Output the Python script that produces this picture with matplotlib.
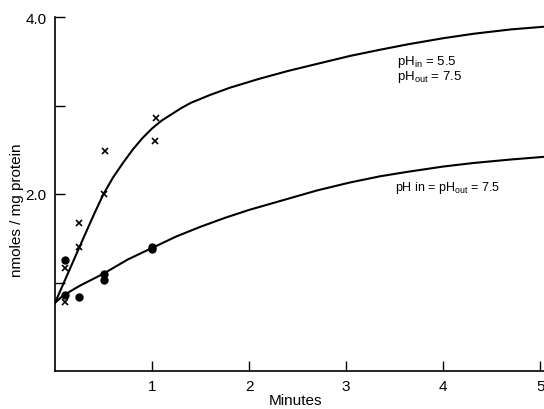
import matplotlib
matplotlib.use("Agg")
import matplotlib.pyplot as plt

plt.rcParams['font.family'] = ['Liberation Sans', 'DejaVu Sans']
plt.rcParams['mathtext.default'] = 'regular'

# puntos medidos: pH interior 5.5 / exterior 7.5 (cruces)
t_cruz = [0.1, 0.1, 0.25, 0.25, 0.5, 0.52, 1.04, 1.03]
y_cruz = [1.16, 0.78, 1.67, 1.40, 2.00, 2.49, 2.86, 2.60]

# puntos medidos: pH interior = exterior = 7.5 (circulos)
t_punto = [0.1, 0.1, 0.25, 0.5, 0.5, 1.0, 1.0]
y_punto = [1.25, 0.86, 0.84, 1.10, 1.03, 1.40, 1.38]

# curvas ajustadas
t_curva_sup = [0.0, 0.1, 0.2, 0.3, 0.41, 0.5, 0.6, 0.7, 0.8, 0.9, 1.0, 1.1, 1.2, 1.3,
               1.4, 1.6, 1.8, 2.1, 2.4, 2.7, 3.04, 3.35, 3.63, 4.0, 4.31, 4.7, 5.04]
y_curva_sup = [0.77, 1.02, 1.27, 1.52, 1.79, 2.00, 2.19, 2.35, 2.50, 2.63, 2.74, 2.83, 2.90, 2.97,
               3.03, 3.12, 3.20, 3.30, 3.39, 3.47, 3.56, 3.63, 3.69, 3.76, 3.81, 3.86, 3.89]

t_curva_inf = [0.0, 0.08, 0.25, 0.5, 0.75, 1.0, 1.25, 1.5, 1.75, 2.0, 2.35, 2.7,
               3.04, 3.35, 3.63, 4.0, 4.31, 4.7, 5.04]
y_curva_inf = [0.77, 0.85, 0.96, 1.10, 1.26, 1.39, 1.52, 1.63, 1.73, 1.82, 1.93, 2.04,
               2.13, 2.20, 2.25, 2.31, 2.35, 2.39, 2.42]

x_ticks = [1, 2, 3, 4, 5]
y_ticks = [1, 2, 3, 4]
y_tick_labels = ['', '2.0', '', '4.0']

fig = plt.figure(figsize=(5.44, 4.10), dpi=100)
ax = fig.add_axes([55 / 544, 38 / 410, 489 / 544, 354 / 410])

ax.plot(t_curva_sup, y_curva_sup, color='black', lw=1.5)
ax.plot(t_curva_inf, y_curva_inf, color='black', lw=1.5)
ax.plot(t_cruz, y_cruz, 'x', color='black', ms=4.5, mew=1.2)
ax.plot(t_punto, y_punto, 'o', color='black', ms=5)

ax.set_xlim(0, 5.04)
ax.set_ylim(0, 4.0)
ax.set_xticks(x_ticks)
ax.set_xticklabels([str(v) for v in x_ticks])
ax.set_yticks(y_ticks)
ax.set_yticklabels(y_tick_labels)
ax.tick_params(direction='in', length=7, width=1, labelsize=11, pad=6)

for lado in ['top', 'right']:
    ax.spines[lado].set_visible(False)
for lado in ['left', 'bottom']:
    ax.spines[lado].set_linewidth(1.2)

# etiquetas de ejes colocadas en coordenadas de la figura
fig.text(296 / 544, 1 - 401 / 410, 'Minutes', fontsize=11, ha='center', va='center')
fig.text(17 / 544, 1 - 210 / 410, 'nmoles / mg protein', fontsize=11,
         ha='center', va='center', rotation=90)

ax.text(3.52, 3.47, 'pH$_{in}$ = 5.5', fontsize=9.5)
ax.text(3.52, 3.30, 'pH$_{out}$ = 7.5', fontsize=9.5)
ax.text(3.50, 2.05, 'pH in = pH$_{out}$ = 7.5', fontsize=9)

fig.savefig('out.png', dpi=100)
